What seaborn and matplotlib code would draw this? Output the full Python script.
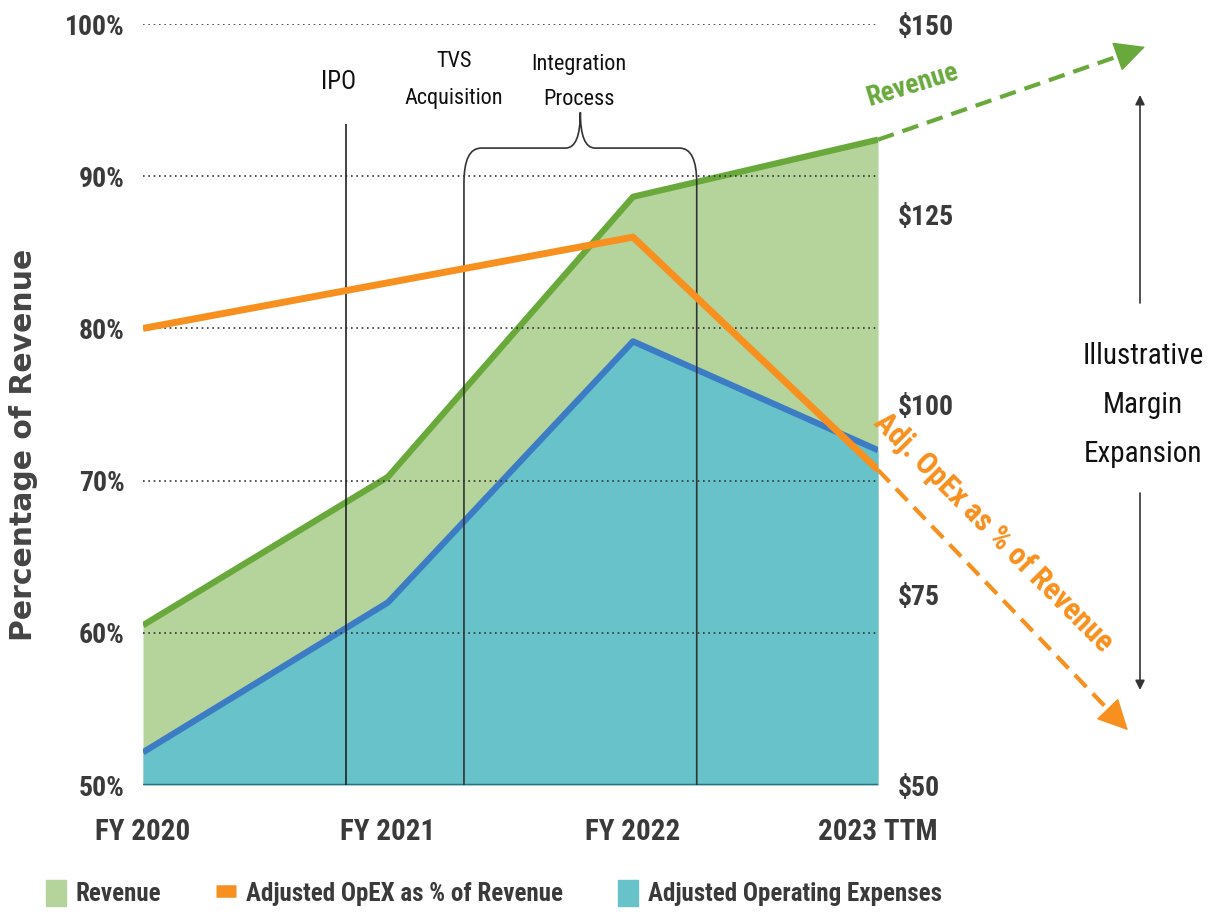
import matplotlib
matplotlib.use("Agg")
import matplotlib.pyplot as plt
import seaborn as sns
import pandas as pd
from matplotlib.patches import Patch, PathPatch
from matplotlib.lines import Line2D
from matplotlib.path import Path

# ---- data -------------------------------------------------------------
periods = ["FY 2020", "FY 2021", "FY 2022", "2023 TTM"]
revenue = [71.0, 90.5, 127.3, 134.8]        # $M (right axis)
adj_opex = [54.3, 74.0, 108.3, 94.0]        # $M (right axis)
opex_pct = [80.0, 83.0, 86.0, 70.7]         # % of revenue (left axis)

pct_ticks = [50, 60, 70, 80, 90, 100]
usd_ticks = [50, 75, 100, 125, 150]

# illustrative projections past 2023 TTM: (x position, value)
revenue_proj = (4.09, 147.0)
opex_pct_proj = (4.02, 53.6)

# milestones along the time axis
ipo_x = 0.83
integration_span = (1.31, 2.26)

# ---- style ------------------------------------------------------------
GREEN_FILL = "#b5d49b"
GREEN = "#69a93c"
TEAL_FILL = "#68c2c9"
BLUE = "#3b7cc4"
ORANGE = "#f7901e"
TEXT = "#3a3a3a"

sns.set_theme(style="white")
plt.rcParams["font.family"] = ["Liberation Sans Narrow", "Roboto Condensed",
                               "Roboto", "DejaVu Sans"]

df = pd.DataFrame({"x": range(len(periods)), "period": periods,
                   "revenue": revenue, "opex": adj_opex, "pct": opex_pct})

fig = plt.figure(figsize=(12.2, 9.17), dpi=100)
ax = fig.add_axes([0.1172, 0.1439, 0.6025, 0.8299])
ax2 = ax.twinx()
ax.set_zorder(ax2.get_zorder() + 1)
ax.patch.set_visible(False)

# dollar areas on the right axis
ax2.fill_between(df["x"], 50, df["revenue"], color=GREEN_FILL, lw=0, zorder=1)
ax2.fill_between(df["x"], 50, df["opex"], color=TEAL_FILL, lw=0, zorder=2)
sns.lineplot(data=df, x="x", y="revenue", ax=ax2, color=GREEN, lw=4.5,
             solid_capstyle="butt", zorder=3)
sns.lineplot(data=df, x="x", y="opex", ax=ax2, color=BLUE, lw=4.5,
             solid_capstyle="butt", zorder=3)

# percentage line on the left axis
sns.lineplot(data=df, x="x", y="pct", ax=ax, color=ORANGE, lw=5,
             solid_capstyle="butt", zorder=5)

ax.set_xlim(0, 3)
ax.set_ylim(50, 100)
ax2.set_ylim(50, 150)

for a in (ax, ax2):
    for s in a.spines.values():
        s.set_visible(False)
    a.set_xlabel("")
    a.set_ylabel("")

ax.set_yticks(pct_ticks)
ax.set_yticklabels([f"{t}%" for t in pct_ticks], fontweight="bold")
ax2.set_yticks(usd_ticks)
ax2.set_yticklabels([f"${t}" for t in usd_ticks], fontweight="bold")
ax.set_xticks(df["x"])
ax.set_xticklabels(periods, fontweight="bold")
ax.tick_params(axis="y", length=0, pad=13, labelsize=20, labelcolor=TEXT)
ax2.tick_params(axis="y", length=0, pad=14, labelsize=20, labelcolor=TEXT)
ax.tick_params(axis="x", length=0, pad=24, labelsize=21, labelcolor=TEXT)

ax.grid(axis="y", linestyle=(0, (1, 2.2)), color="#333333", lw=1.2)
ax.grid(axis="x", visible=False)
ax2.grid(False)
ax.axhline(50, color="#2e6d8e", lw=2.5, zorder=4)

# ---- milestones ---------------------------------------------------------
ax.vlines(ipo_x, 50, 93.4, color="#222222", lw=1.2, zorder=4)

xl, xr = integration_span
xc = (xl + xr) / 2
top, tip = 91.85, 94.2
rx, ry = 0.07, 2.3
cx = 0.06
verts = [(xl, 50), (xl, top - ry), (xl, top), (xl + rx, top),
         (xc - cx, top), (xc, top), (xc, tip),
         (xc, top), (xc + cx, top),
         (xr - rx, top), (xr, top), (xr, top - ry), (xr, 50)]
codes = [Path.MOVETO, Path.LINETO, Path.CURVE3, Path.CURVE3,
         Path.LINETO, Path.CURVE3, Path.CURVE3,
         Path.CURVE3, Path.CURVE3,
         Path.LINETO, Path.CURVE3, Path.CURVE3, Path.LINETO]
ax.add_patch(PathPatch(Path(verts, codes), fill=False, ec="#333333", lw=1.2,
                       zorder=4, clip_on=False))

ax.text(0.80, 96.2, "IPO", ha="center", va="center", size=18, color="#111111")
ax.text(1.27, 96.3, "TVS\nAcquisition", ha="center", va="center", size=16,
        linespacing=2.0, color="#111111")
ax.text(1.78, 96.2, "Integration\nProcess", ha="center", va="center", size=16,
        linespacing=1.85, color="#111111")


# ---- projections ------------------------------------------------------
def projection(axis, start, end, color):
    x0, y0 = start
    x1, y1 = end
    f = 0.93
    xm, ym = x0 + (x1 - x0) * f, y0 + (y1 - y0) * f
    axis.plot([x0, xm], [y0, ym], color=color, lw=3, ls=(0, (4, 2.2)),
              clip_on=False, zorder=6, solid_capstyle="butt")
    axis.annotate("", xy=(x1, y1), xytext=(xm, ym), annotation_clip=False,
                  arrowprops=dict(arrowstyle="-|>,head_length=0.9,head_width=0.45",
                                  color=color, lw=1, mutation_scale=22,
                                  shrinkA=0, shrinkB=0))


projection(ax2, (3, revenue[-1]), revenue_proj, GREEN)
projection(ax, (3, opex_pct[-1]), opex_pct_proj, ORANGE)

ax2.text(3.14, 142.0, "Revenue", rotation=17, ha="center", va="center",
         size=20, weight="bold", color=GREEN)
ax.text(3.47, 66.6, "Adj. OpEx as % of Revenue", rotation=-45, ha="center",
        va="center", size=22, weight="bold", color=ORANGE, clip_on=False)

# ---- margin expansion callout --------------------------------------------
fig.text(1143 / 1220, 1 - 405 / 917, "Illustrative\nMargin\nExpansion",
         ha="center", va="center", size=21, linespacing=1.95, color="#111111")
arrow_kw = dict(arrowstyle="-|>", color="#333333", lw=1.2, mutation_scale=14,
                shrinkA=0, shrinkB=0)
ax.annotate("", xy=(1140 / 1220, 1 - 95 / 917), xytext=(1140 / 1220, 1 - 303 / 917),
            xycoords="figure fraction", textcoords="figure fraction",
            arrowprops=arrow_kw, annotation_clip=False)
ax.annotate("", xy=(1140 / 1220, 1 - 690 / 917), xytext=(1140 / 1220, 1 - 493 / 917),
            xycoords="figure fraction", textcoords="figure fraction",
            arrowprops=arrow_kw, annotation_clip=False)

# ---- axis title & legend ----------------------------------------------
fig.text(0.019, 0.515, "Percentage of Revenue", rotation=90, ha="center",
         va="center", size=21.5, weight="bold", color="#444444", family="DejaVu Sans")

handles = [Patch(color=GREEN_FILL, label="Revenue"),
           Line2D([], [], color=ORANGE, lw=9, solid_capstyle="butt",
                  label="Adjusted OpEX as % of Revenue"),
           Patch(color=TEAL_FILL, label="Adjusted Operating Expenses")]
fig.legend(handles=handles, loc="center", bbox_to_anchor=(0.405, 0.026), ncol=3,
           frameon=False, handlelength=0.8, handleheight=1.2, handletextpad=0.4,
           columnspacing=2.2, prop=dict(size=18, weight="bold"),
           labelcolor=TEXT)

fig.savefig("out.png", dpi=100)
